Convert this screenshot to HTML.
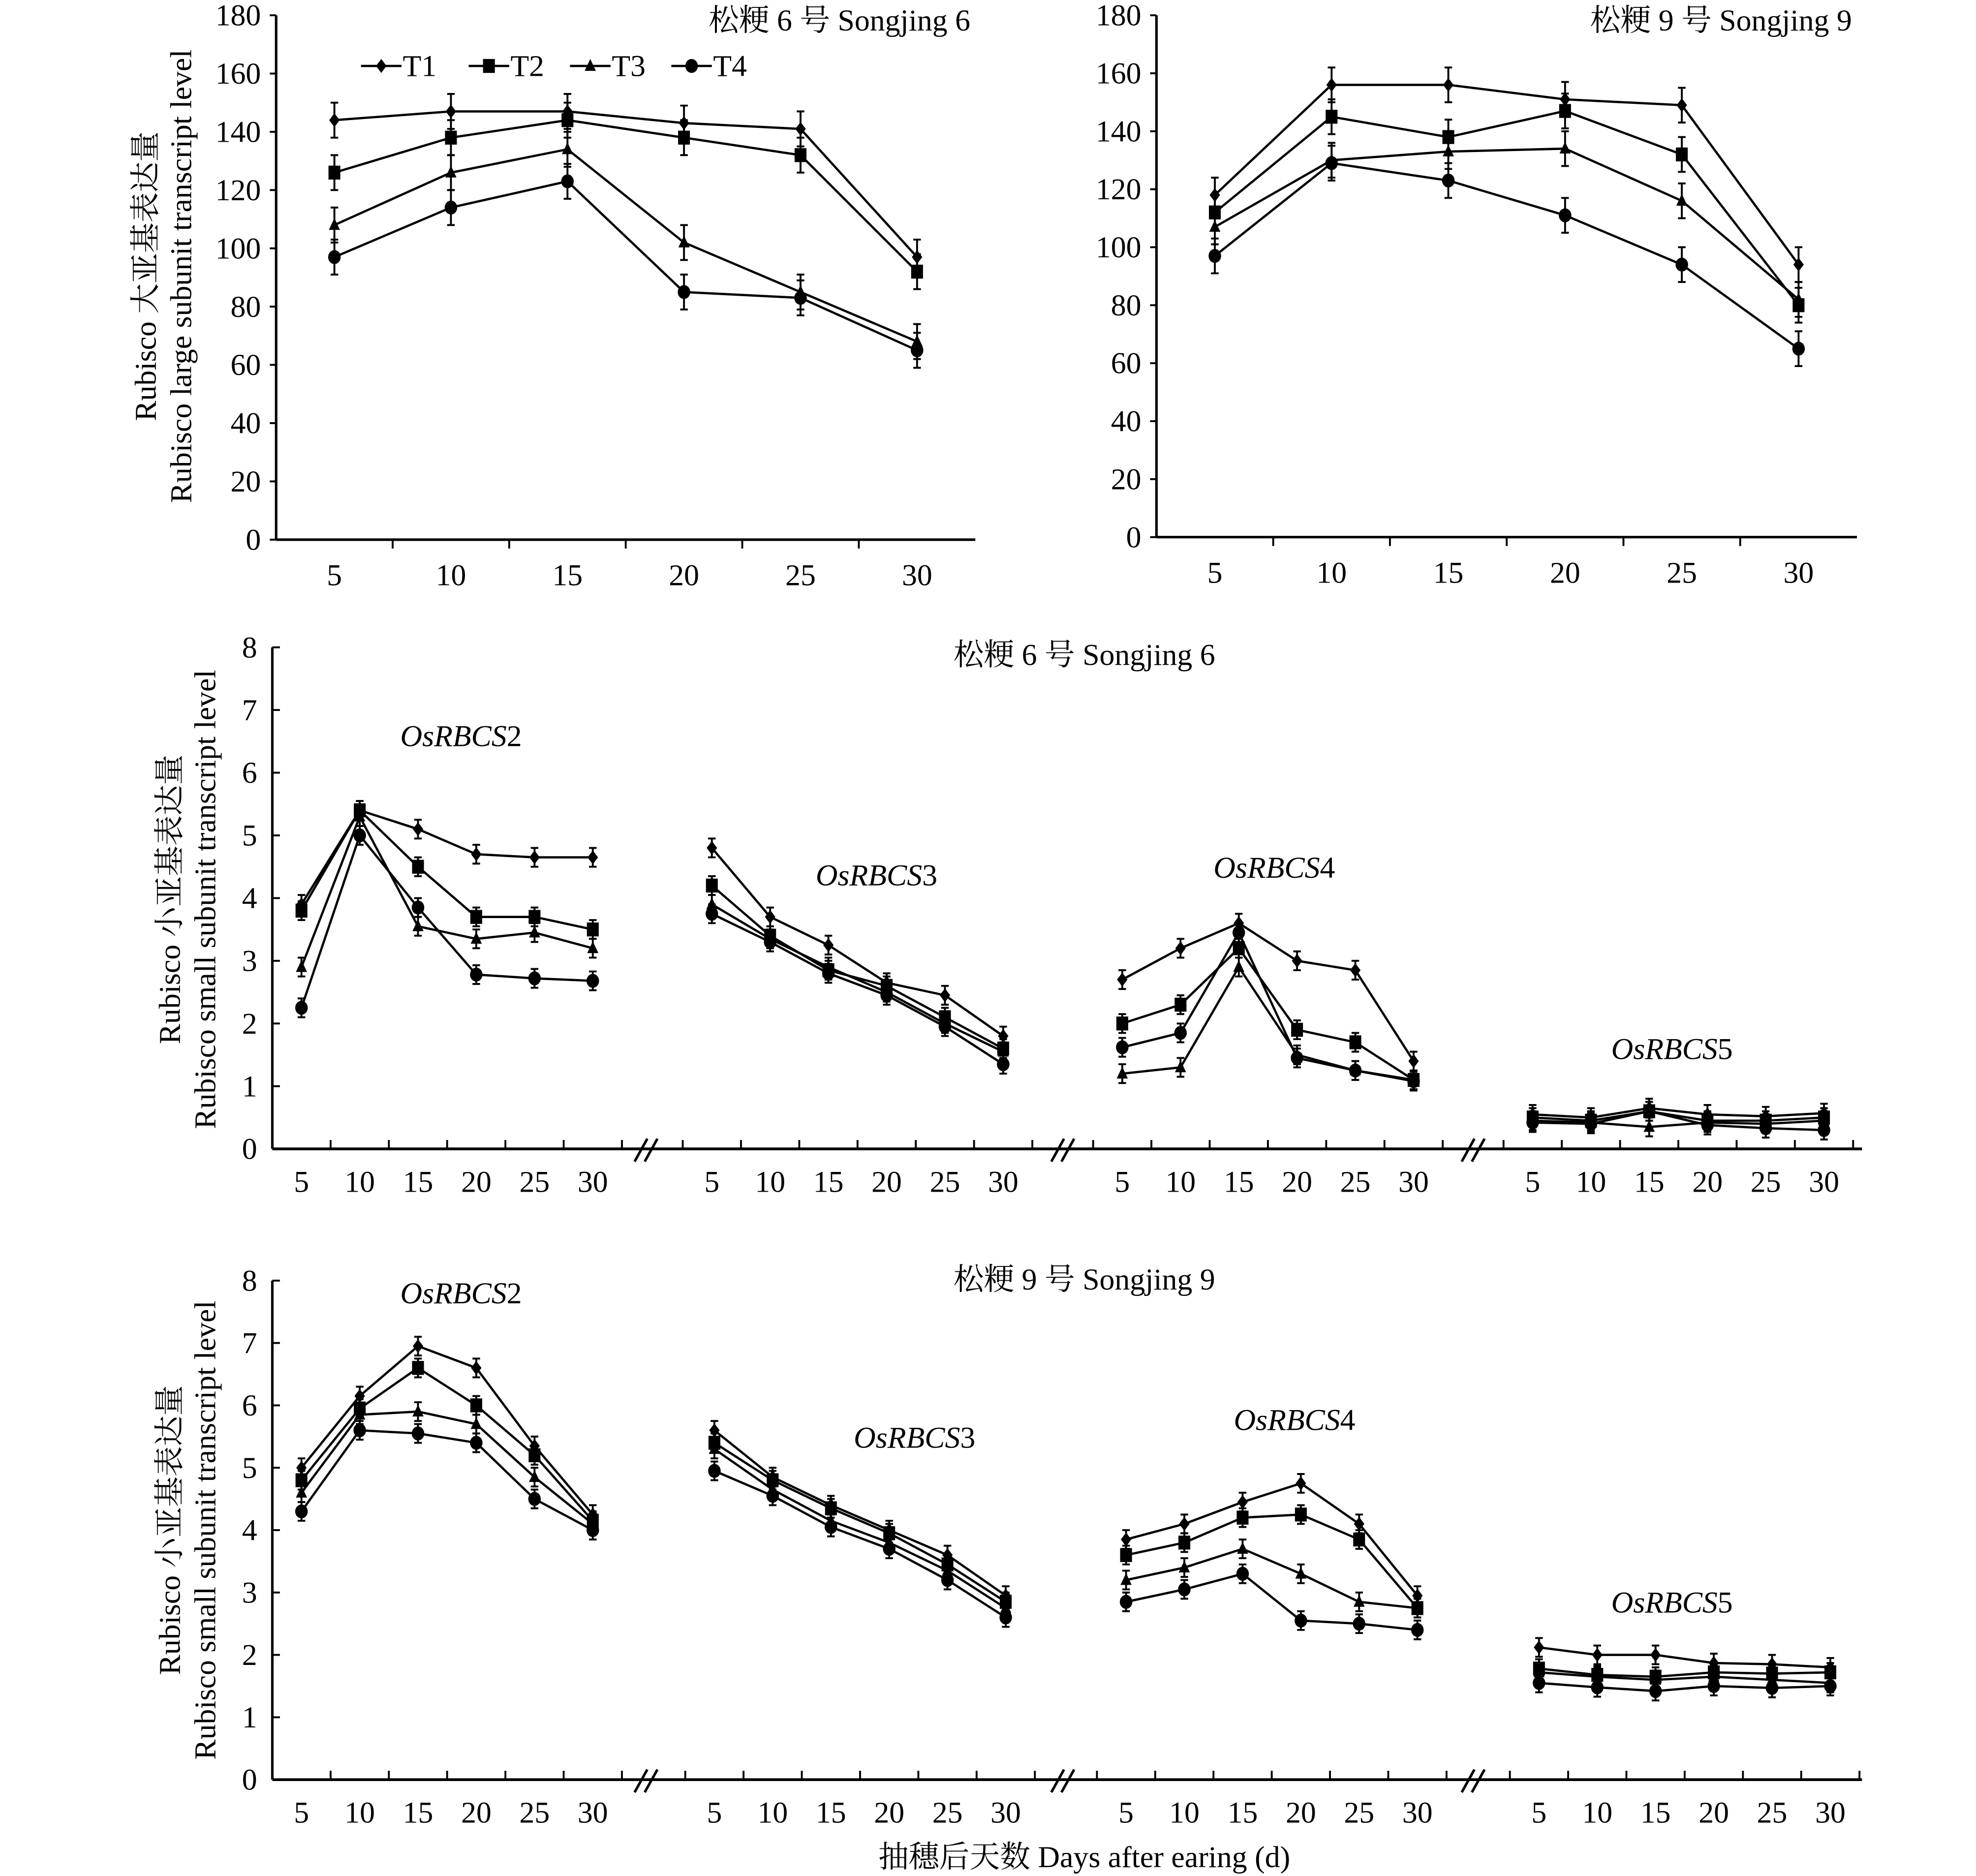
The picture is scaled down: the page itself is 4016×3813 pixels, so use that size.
<!DOCTYPE html>
<html><head><meta charset="utf-8">
<style>
html,body{margin:0;padding:0;background:#fff;}
svg{display:block;}
text{font-family:"Liberation Serif","Noto Serif CJK SC",serif;fill:#000;}
</style></head>
<body>
<svg id="fig" width="4016" height="3813" viewBox="0 0 1560 1481" xmlns="http://www.w3.org/2000/svg"></svg>
<script>
// ---- data ----
const days = [5,10,15,20,25,30];
const seriesNames = ["T1","T2","T3","T4"];
// top-left: Songjing 6 large subunit
const sj6LargeT1 = [144,147,147,143,141,97];
const sj6LargeT2 = [126,138,144,138,132,92];
const sj6LargeT3 = [108,126,134,102,85,68];
const sj6LargeT4 = [97,114,123,85,83,65];
// top-right: Songjing 9 large subunit
const sj9LargeT1 = [118,156,156,151,149,94];
const sj9LargeT2 = [112,145,138,147,132,80];
const sj9LargeT3 = [107,130,133,134,116,82];
const sj9LargeT4 = [97,129,123,111,94,65];
const largeErr = 6;
const largeTicks = [0,20,40,60,80,100,120,140,160,180];
// middle: Songjing 6 small subunit
const sj6R2T1=[3.9,5.4,5.1,4.7,4.65,4.65], sj6R2T2=[3.8,5.4,4.5,3.7,3.7,3.5], sj6R2T3=[2.9,5.3,3.55,3.35,3.45,3.2], sj6R2T4=[2.25,5.0,3.85,2.78,2.72,2.68];
const sj6R3T1=[4.8,3.7,3.25,2.65,2.45,1.8], sj6R3T2=[4.2,3.4,2.85,2.6,2.1,1.6], sj6R3T3=[3.9,3.35,2.9,2.5,2.0,1.55], sj6R3T4=[3.75,3.3,2.8,2.45,1.95,1.35];
const sj6R4T1=[2.7,3.2,3.6,3.0,2.85,1.4], sj6R4T2=[2.0,2.3,3.2,1.9,1.7,1.1], sj6R4T3=[1.2,1.3,2.9,1.5,1.25,1.1], sj6R4T4=[1.62,1.85,3.45,1.45,1.25,1.08];
const sj6R5T1=[0.55,0.5,0.65,0.55,0.52,0.57], sj6R5T2=[0.5,0.45,0.6,0.45,0.45,0.5], sj6R5T3=[0.45,0.42,0.35,0.42,0.4,0.45], sj6R5T4=[0.42,0.4,0.6,0.38,0.33,0.3];
// bottom: Songjing 9 small subunit
const sj9R2T1=[5.0,6.15,6.95,6.6,5.35,4.25], sj9R2T2=[4.8,5.95,6.6,6.0,5.2,4.15], sj9R2T3=[4.6,5.85,5.9,5.7,4.85,4.1], sj9R2T4=[4.3,5.6,5.55,5.4,4.5,4.0];
const sj9R3T1=[5.6,4.85,4.4,4.0,3.6,2.95], sj9R3T2=[5.4,4.8,4.35,3.95,3.45,2.85], sj9R3T3=[5.3,4.65,4.15,3.8,3.35,2.75], sj9R3T4=[4.95,4.55,4.05,3.7,3.2,2.6];
const sj9R4T1=[3.85,4.1,4.45,4.75,4.1,2.95], sj9R4T2=[3.6,3.8,4.2,4.25,3.85,2.75], sj9R4T3=[3.2,3.4,3.7,3.3,2.85,2.75], sj9R4T4=[2.85,3.05,3.3,2.55,2.5,2.4];
const sj9R5T1=[2.12,2.0,2.0,1.87,1.85,1.8], sj9R5T2=[1.78,1.68,1.65,1.72,1.7,1.72], sj9R5T3=[1.72,1.65,1.6,1.65,1.6,1.55], sj9R5T4=[1.55,1.48,1.42,1.5,1.47,1.5];
const smallErr = 0.15;
const smallTicks = [0,1,2,3,4,5,6,7,8];

const FS = 24;
const NS="http://www.w3.org/2000/svg";
const svg=document.getElementById('fig');
function el(tag,attrs,parent){const e=document.createElementNS(NS,tag);for(const k in attrs)e.setAttribute(k,attrs[k]);(parent||svg).appendChild(e);return e;}
function txt(s,x,y,size,anchor,parent){const t=el('text',{x:x,y:y,'font-size':size,'text-anchor':anchor||'middle'},parent);t.textContent=s;return t;}

function marker(type,x,y,g){
  const r=5.5;let m;
  if(type===0) m=el('polygon',{points:`${x},${y-r} ${x+r*0.75},${y} ${x},${y+r} ${x-r*0.75},${y}`,fill:'#000'},g);
  else if(type===1) m=el('rect',{x:x-r*0.85,y:y-r,width:r*1.7,height:r*2,fill:'#000'},g);
  else if(type===2) m=el('polygon',{points:`${x},${y-r} ${x+r*0.8},${y+r*0.7} ${x-r*0.8},${y+r*0.7}`,fill:'#000'},g);
  else m=el('ellipse',{cx:x,cy:y,rx:r*0.9,ry:r,fill:'#000'},g);
  
  
}

function drawSeries(g,xs,vals,yScale,err,type,name){
  const sg=el('g',{},g);
  
  
  const pts=vals.map((v,i)=>xs(i)+','+yScale(v)).join(' ');
  el('polyline',{points:pts,fill:'none',stroke:'#000','stroke-width':1.8},sg);
  vals.forEach((v,i)=>{
    const x=xs(i),y1=yScale(v+err),y2=yScale(v-err);
    const eb=el('path',{d:`M${x},${y1}V${y2}M${x-3},${y1}H${x+3}M${x-3},${y2}H${x+3}`,stroke:'#000','stroke-width':1.5,fill:'none'},sg);
    
    
    marker(type,x,yScale(v),sg);
  });
}

// ---- large panels ----
function largePanel(name,ax,axEnd,y0,yTop,title,data,legend){
  const g=el('g',{});
  
  
  const yS=v=>y0-(v/180)*(y0-yTop);
  const step=(axEnd-ax)/6;
  const xs=i=>ax+step*(i+0.5);
  el('line',{x1:ax,y1:yTop,x2:ax,y2:y0,stroke:'#000','stroke-width':2},g);
  el('line',{x1:ax,y1:y0,x2:axEnd,y2:y0,stroke:'#000','stroke-width':2},g);
  largeTicks.forEach(t=>{
    el('line',{x1:ax-5,y1:yS(t),x2:ax,y2:yS(t),stroke:'#000','stroke-width':1.5},g);
    const l=txt(String(t),ax-12,yS(t)+8,FS,'end',g);
    
    
  });
  for(let i=1;i<6;i++) el('line',{x1:ax+step*i,y1:y0,x2:ax+step*i,y2:y0+7,stroke:'#000','stroke-width':1.5},g);
  days.forEach((d,i)=>{const l=txt(String(d),xs(i),y0+36,FS,'middle',g);
    
    });
  const tt=txt(title,axEnd-4,24,FS,'end',g);
  
  
  data.forEach((d,k)=>drawSeries(g,xs,d,yS,largeErr,k,'series-'+seriesNames[k].toLowerCase()));
  if(legend){
    const lx=[285,370,450,530];
    seriesNames.forEach((n,k)=>{
      const lg=el('g',{},g);
      
      
      el('line',{x1:lx[k],y1:52,x2:lx[k]+32,y2:52,stroke:'#000','stroke-width':1.8},lg);
      marker(k,lx[k]+16,52,lg);
      txt(n,lx[k]+33,60,FS,'start',lg);
    });
  }
}
largePanel('chart-songjing6-large',218,770,426,12,'松粳 6 号 Songjing 6',[sj6LargeT1,sj6LargeT2,sj6LargeT3,sj6LargeT4],true);
largePanel('chart-songjing9-large',913,1466,424,12,'松粳 9 号 Songjing 9',[sj9LargeT1,sj9LargeT2,sj9LargeT3,sj9LargeT4],false);

function yTitle(x1,x2,cy,l1,l2,name){
  const g=el('g',{transform:`rotate(-90 ${x1} ${cy})`});
  
  
  txt(l1,x1,cy+8,FS,'middle',g);
  txt(l2,x1,cy+8+(x2-x1),FS,'middle',g);
}
yTitle(115,143,218,'Rubisco 大亚基表达量','Rubisco large subunit transcript level','y-axis-title-large');

// ---- small panels ----
function smallPanel(name,y0,yTop,starts,titleY,title,genes,genePos,data){
  const g=el('g',{});
  
  
  const ax=215,axEnd=1470,step=46;
  const yS=v=>y0-(v/8)*(y0-yTop);
  el('line',{x1:ax,y1:yTop,x2:ax,y2:y0,stroke:'#000','stroke-width':2},g);
  el('line',{x1:ax,y1:y0,x2:axEnd,y2:y0,stroke:'#000','stroke-width':2.2},g);
  smallTicks.forEach(t=>{
    el('line',{x1:ax,y1:yS(t),x2:ax+6,y2:yS(t),stroke:'#000','stroke-width':1.5},g);
    const l=txt(String(t),ax-12,yS(t)+8,FS,'end',g);
    
    
  });
  [507,836,1160].forEach(bx=>{
    const b=el('path',{d:`M${bx-6},${y0+10}L${bx+4},${y0-8}M${bx+2},${y0+10}L${bx+12},${y0-8}`,stroke:'#000','stroke-width':2},g);
    
    
  });
  starts.forEach((s,si)=>{
    const xs=i=>s+step*(i+0.5);
    for(let i=0;i<=6;i++) el('line',{x1:s+step*i,y1:y0,x2:s+step*i,y2:y0-7,stroke:'#000','stroke-width':1.5},g);
    days.forEach((d,i)=>{const l=txt(String(d),xs(i),y0+34,FS,'middle',g);
      
      });
    const gl=el('text',{x:genePos[si][0],y:genePos[si][1],'font-size':FS,'text-anchor':'middle'},g);
    
    
    const it=el('tspan',{'font-style':'italic'},gl);it.textContent='OsRBCS';
    const nn=el('tspan',{},gl);nn.textContent=genes[si];
    data[si].forEach((d,k)=>drawSeries(g,xs,d,yS,smallErr,k,'series-'+seriesNames[k].toLowerCase()+'-osrbcs'+genes[si]));
  });
  const tt=txt(title,856,titleY,FS,'middle',g);
  
  
}
smallPanel('chart-songjing6-small',907,511,[215,539,863,1187],525,'松粳 6 号 Songjing 6',['2','3','4','5'],
  [[364,589],[692,699],[1006,693],[1320,836]],
  [[sj6R2T1,sj6R2T2,sj6R2T3,sj6R2T4],[sj6R3T1,sj6R3T2,sj6R3T3,sj6R3T4],[sj6R4T1,sj6R4T2,sj6R4T3,sj6R4T4],[sj6R5T1,sj6R5T2,sj6R5T3,sj6R5T4]]);
smallPanel('chart-songjing9-small',1405,1011,[215,541,866,1192],1018,'松粳 9 号 Songjing 9',['2','3','4','5'],
  [[364,1029],[722,1143],[1022,1129],[1320,1273]],
  [[sj9R2T1,sj9R2T2,sj9R2T3,sj9R2T4],[sj9R3T1,sj9R3T2,sj9R3T3,sj9R3T4],[sj9R4T1,sj9R4T2,sj9R4T3,sj9R4T4],[sj9R5T1,sj9R5T2,sj9R5T3,sj9R5T4]]);
yTitle(134,162,710,'Rubisco 小亚基表达量','Rubisco small subunit transcript level','y-axis-title-small-sj6');
yTitle(134,162,1208,'Rubisco 小亚基表达量','Rubisco small subunit transcript level','y-axis-title-small-sj9');
const xt=txt('抽穗后天数 Days after earing (d)',856,1474,FS,'middle');


</script>
</body></html>
